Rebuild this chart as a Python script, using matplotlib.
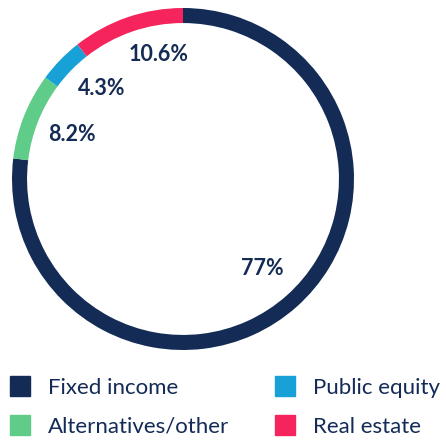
import numpy as np
import matplotlib.pyplot as plt
from matplotlib.lines import Line2D

plt.rcParams['font.family'] = ['Lato', 'DejaVu Sans']

categories = ["Fixed income", "Alternatives/other", "Public equity", "Real estate"]
shares = [77.0, 8.2, 4.3, 10.6]
pct_labels = ["77%", "8.2%", "4.3%", "10.6%"]
colors = ["#132b55", "#5fcc89", "#17a1d6", "#f5245c"]
text_color = "#132b55"

fig = plt.figure(figsize=(4.46, 4.40), dpi=100)
# ring centre at (183, 179) px, outer radius 171 px
ax = fig.add_axes([12 / 446, 90 / 440, 342 / 446, 342 / 440])
wedges, _ = ax.pie(shares, colors=colors, startangle=90, counterclock=False,
                   radius=1.0, wedgeprops=dict(width=0.088, linewidth=0))
ax.set_xlim(-1, 1)
ax.set_ylim(-1, 1)
ax.set_aspect("equal")
ax.axis("off")

# percentage labels inside the ring, near the middle of each wedge
label_r = [0.70, 0.70, 0.71, 0.74]
label_shift = [0, 0, -4, -8]   # degrees, keeps labels apart near the top
for w, txt, r, s in zip(wedges, pct_labels, label_r, label_shift):
    ang = np.deg2rad((w.theta1 + w.theta2) / 2 + s)
    ax.text(r * np.cos(ang), r * np.sin(ang), txt, ha="center", va="center",
            fontsize=15.5, fontweight="bold", color=text_color)

handles = [Line2D([], [], marker="s", ls="", markersize=14.4, color=c)
           for c in colors]
fig.legend(handles, categories, loc="upper left",
           bbox_to_anchor=(10 / 446, 1 - 378 / 440), ncol=2, frameon=False,
           fontsize=16, labelcolor=text_color, handlelength=0.93,
           handletextpad=0.78, columnspacing=2.05, labelspacing=0.85,
           borderpad=0, borderaxespad=0)

fig.savefig("out.png", dpi=100)
